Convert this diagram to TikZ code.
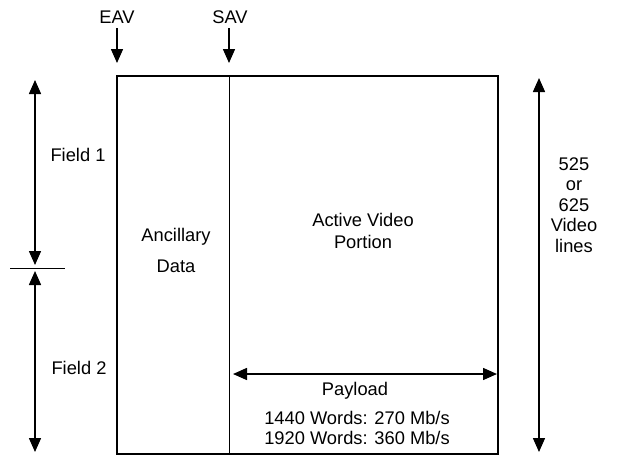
\documentclass[tikz,border=0pt]{standalone}
\usepackage{fontspec}
\setmainfont{Liberation Sans}
\usetikzlibrary{arrows.meta}
\begin{document}
\begin{tikzpicture}[x=1pt,y=-1pt,
  lbl/.style={font=\fontsize{18.3}{20}\selectfont, inner sep=0pt, align=center},
  arr/.style={line width=1.5pt, -{Triangle[length=14pt,width=12pt]}},
  darr/.style={line width=1.5pt, {Triangle[length=14pt,width=12pt]}-{Triangle[length=14pt,width=12pt]}}]
\useasboundingbox (0,0) rectangle (625,456);
% frame
\coordinate (tl) at (117,76);
\coordinate (br) at (498,454);
\draw[line width=1.8pt] (tl) rectangle (br);
\coordinate (savtop) at (229,76);
\coordinate (savbot) at (229,454);
\draw[line width=1pt] (savtop) -- (savbot);
% top labels
\node[lbl] (eav) at (117,17) {EAV};
\node[lbl] (sav) at (230,17) {SAV};
\coordinate (eavs) at (117,28);
\coordinate (eave) at (117,63);
\coordinate (savs) at (229,28);
\coordinate (save) at (229,63);
\draw[arr] (eavs) -- (eave);
\draw[arr] (savs) -- (save);
% fields
\coordinate (f1t) at (35,80);
\coordinate (f1b) at (35,265);
\coordinate (f2t) at (35,271);
\coordinate (f2b) at (35,452);
\draw[darr] (f1t) -- (f1b);
\draw[darr] (f2t) -- (f2b);
\coordinate (sepl) at (10,268);
\coordinate (sepr) at (65,268);
\draw[line width=0.6pt] (sepl) -- (sepr);
\node[lbl] (field1) at (78,155) {Field 1};
\node[lbl] (field2) at (79,368) {Field 2};
% right arrow
\coordinate (rt) at (539,78);
\coordinate (rb) at (539,452);
\draw[darr] (rt) -- (rb);
\node[lbl, font=\fontsize{18.3}{20.5}\selectfont] (lines) at (574,205) {525\\or\\625\\Video\\lines};
% inner labels
\node[lbl, font=\fontsize{18.3}{31}\selectfont] (anc) at (176,250) {Ancillary\\Data};
\node[lbl, font=\fontsize{18.3}{22}\selectfont] (avp) at (363,231) {Active Video\\Portion};
% payload
\coordinate (pl) at (233,374);
\coordinate (pr) at (497,374);
\draw[darr] (pl) -- (pr);
\node[lbl] (payload) at (355,391) {Payload};
\node[lbl, font=\fontsize{18.3}{20}\selectfont] (rates) at (357,428) {1440 Words: 270 Mb/s\\1920 Words: 360 Mb/s};
\end{tikzpicture}
\end{document}
